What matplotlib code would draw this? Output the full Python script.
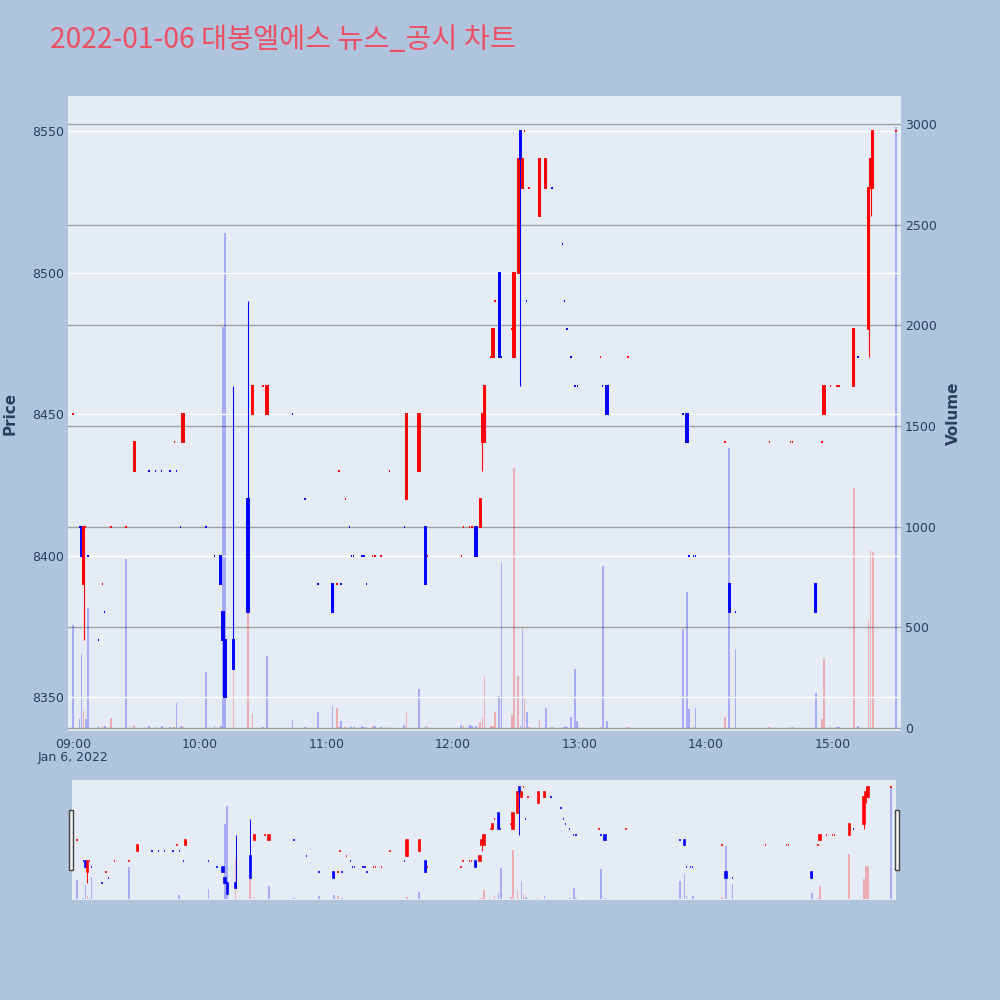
import matplotlib
matplotlib.use('Agg')
import matplotlib.pyplot as plt
import matplotlib.dates as mdates
from matplotlib.patches import Rectangle
import pandas as pd

plt.rcParams['font.family'] = ['DejaVu Sans', 'Noto Sans CJK KR']

day = '2022-01-06'

times = ['09:00', '09:03', '09:04', '09:05', '09:06', '09:07', '09:12', '09:14', '09:15', '09:18',
         '09:25', '09:29', '09:36', '09:39', '09:42', '09:46', '09:48', '09:49', '09:51', '09:52',
         '10:03', '10:07', '10:10', '10:11', '10:12', '10:16', '10:23', '10:25', '10:30', '10:32',
         '10:44', '10:50', '10:56', '11:03', '11:05', '11:06', '11:07', '11:09', '11:11', '11:12',
         '11:13', '11:17', '11:18', '11:19', '11:22', '11:23', '11:26', '11:30', '11:37', '11:38',
         '11:44', '11:47', '11:48', '12:04', '12:05', '12:08', '12:09', '12:11', '12:13', '12:14',
         '12:15', '12:18', '12:19', '12:20', '12:22', '12:23', '12:28', '12:29', '12:31', '12:32',
         '12:33', '12:34', '12:35', '12:36', '12:41', '12:44', '12:47', '12:52', '12:53', '12:54',
         '12:56', '12:58', '12:59', '13:10', '13:11', '13:13', '13:23', '13:49', '13:51', '13:52',
         '13:54', '13:55', '14:09', '14:11', '14:14', '14:30', '14:40', '14:41', '14:52', '14:55',
         '14:56', '14:59', '15:02', '15:03', '15:10', '15:12', '15:17', '15:18', '15:19', '15:30']

opens = [8450, 8410, 8410, 8390, 8410, 8400, 8370, 8390, 8380, 8410,
         8410, 8430, 8430, 8430, 8430, 8430, 8440, 8430, 8410, 8440,
         8410, 8400, 8400, 8380, 8370, 8370, 8420, 8450, 8460, 8450,
         8450, 8420, 8390, 8390, 8390, 8430, 8390, 8420, 8410, 8400,
         8400, 8400, 8400, 8390, 8400, 8400, 8400, 8430, 8410, 8420,
         8430, 8410, 8400, 8400, 8410, 8410, 8410, 8410, 8410, 8440,
         8440, 8470, 8470, 8490, 8500, 8470, 8480, 8470, 8500, 8550,
         8530, 8550, 8490, 8530, 8520, 8530, 8530, 8510, 8490, 8480,
         8470, 8460, 8460, 8470, 8460, 8460, 8470, 8450, 8450, 8400,
         8400, 8400, 8440, 8390, 8380, 8440, 8440, 8440, 8390, 8440,
         8450, 8460, 8460, 8460, 8460, 8470, 8480, 8530, 8530, 8550]

highs = [8450, 8410, 8410, 8410, 8410, 8400, 8370, 8390, 8380, 8410,
         8410, 8440, 8430, 8430, 8430, 8430, 8440, 8430, 8410, 8450,
         8410, 8400, 8400, 8380, 8370, 8460, 8490, 8460, 8460, 8460,
         8450, 8420, 8390, 8390, 8390, 8430, 8390, 8420, 8410, 8400,
         8400, 8400, 8400, 8390, 8400, 8400, 8400, 8430, 8410, 8450,
         8450, 8410, 8400, 8400, 8410, 8410, 8410, 8410, 8420, 8450,
         8460, 8470, 8480, 8490, 8500, 8470, 8480, 8500, 8540, 8550,
         8540, 8550, 8490, 8530, 8540, 8540, 8530, 8510, 8490, 8480,
         8470, 8460, 8460, 8470, 8460, 8460, 8470, 8450, 8450, 8400,
         8400, 8400, 8440, 8390, 8380, 8440, 8440, 8440, 8390, 8440,
         8460, 8460, 8460, 8460, 8480, 8470, 8530, 8540, 8550, 8550]

lows = [8450, 8410, 8400, 8370, 8410, 8400, 8370, 8390, 8380, 8410,
        8410, 8430, 8430, 8430, 8430, 8430, 8440, 8430, 8410, 8440,
        8410, 8400, 8390, 8370, 8350, 8360, 8380, 8450, 8460, 8450,
        8450, 8420, 8390, 8380, 8390, 8430, 8390, 8420, 8410, 8400,
        8400, 8400, 8400, 8390, 8400, 8400, 8400, 8430, 8410, 8420,
        8430, 8390, 8400, 8400, 8410, 8410, 8410, 8400, 8410, 8430,
        8440, 8470, 8470, 8490, 8470, 8470, 8480, 8470, 8500, 8460,
        8530, 8550, 8490, 8530, 8520, 8530, 8530, 8510, 8490, 8480,
        8470, 8460, 8460, 8470, 8460, 8450, 8470, 8450, 8440, 8400,
        8400, 8400, 8440, 8380, 8380, 8440, 8440, 8440, 8380, 8440,
        8450, 8460, 8460, 8460, 8460, 8470, 8470, 8520, 8530, 8550]

closes = [8450, 8410, 8400, 8410, 8410, 8400, 8370, 8390, 8380, 8410,
          8410, 8440, 8430, 8430, 8430, 8430, 8440, 8430, 8410, 8450,
          8410, 8400, 8390, 8370, 8350, 8360, 8380, 8460, 8460, 8460,
          8450, 8420, 8390, 8380, 8390, 8430, 8390, 8420, 8410, 8400,
          8400, 8400, 8400, 8390, 8400, 8400, 8400, 8430, 8410, 8450,
          8450, 8390, 8400, 8400, 8410, 8410, 8410, 8400, 8420, 8450,
          8460, 8470, 8480, 8490, 8470, 8470, 8480, 8500, 8540, 8540,
          8540, 8550, 8490, 8530, 8540, 8540, 8530, 8510, 8490, 8480,
          8470, 8460, 8460, 8470, 8460, 8450, 8470, 8450, 8440, 8400,
          8400, 8400, 8440, 8380, 8380, 8440, 8440, 8440, 8380, 8440,
          8460, 8460, 8460, 8460, 8480, 8470, 8530, 8540, 8550, 8550]

volumes = [510, 45, 367, 84, 45, 595, 10, 8, 12, 50,
           842, 14, 8, 6, 8, 6, 5, 125, 12, 5,
           278, 10, 8, 1994, 2460, 1075, 674, 67, 5, 358,
           42, 5, 81, 109, 101, 5, 36, 6, 5, 8,
           5, 8, 6, 5, 12, 10, 5, 5, 14, 77,
           194, 8, 8, 16, 8, 16, 10, 12, 30, 50,
           253, 10, 10, 81, 158, 820, 65, 1291, 259, 8,
           492, 152, 77, 5, 42, 101, 5, 5, 10, 5,
           57, 294, 36, 5, 803, 36, 5, 492, 678, 93,
           5, 101, 55, 1392, 393, 5, 5, 5, 174, 47,
           344, 5, 5, 5, 1190, 10, 532, 885, 872, 2985]

x = pd.to_datetime([day + ' ' + t for t in times])

# plotly style direction: dojis take the direction from the previous close
cand_up = []
pc, pu = None, True
for o, c in zip(opens, closes):
    if c > o:
        up = True
    elif c < o:
        up = False
    elif pc is None or c > pc:
        up = True
    elif c < pc:
        up = False
    else:
        up = pu
    cand_up.append(up)
    pc, pu = c, up

vol_up = [False] + [c > p for p, c in zip(closes[:-1], closes[1:])]

RED, BLUE = '#ff0000', '#0000ff'
BG = '#e5ecf6'
PAPER = '#b0c4de'
TXT = '#2a3f5f'
minute = 1 / 1440

x0 = pd.Timestamp(day + ' 09:00') - pd.Timedelta(minutes=2.4)
x1 = pd.Timestamp(day + ' 15:30') + pd.Timedelta(minutes=2.4)
price_lim = (8338, 8562.4)
vol_lim = (-15, 3140)


def draw(ax_v, ax_p, wick_lw, edge_lw):
    vcol = [RED if u else BLUE for u in vol_up]
    ax_v.bar(x, volumes, width=0.8 * minute, color=vcol, alpha=0.27, zorder=2)
    ccol = [RED if u else BLUE for u in cand_up]
    ax_p.vlines(x, lows, highs, colors=ccol, linewidth=wick_lw, zorder=3)
    bottoms = [min(o, c) for o, c in zip(opens, closes)]
    heights = [abs(c - o) for o, c in zip(opens, closes)]
    ax_p.bar(x, heights, bottom=bottoms, width=0.7 * minute, color=ccol,
             edgecolor=ccol, linewidth=edge_lw, zorder=4)


fig = plt.figure(figsize=(10, 10), dpi=100, facecolor=PAPER)

ax_vol = fig.add_axes([0.068, 0.269, 0.833, 0.635])
ax_vol.set_facecolor(BG)
ax_price = ax_vol.twinx()

draw(ax_vol, ax_price, 0.8, 1.4)

ax_vol.set_xlim(x0, x1)
ax_vol.set_ylim(*vol_lim)
ax_price.set_ylim(*price_lim)
ax_vol.set_yticks(range(0, 3001, 500))
ax_price.set_yticks(range(8350, 8551, 50))

ax_vol.yaxis.tick_right()
ax_price.yaxis.tick_left()
ax_vol.grid(axis='y', color='#a0a0a0', linewidth=1)
ax_vol.set_axisbelow(True)
ax_price.grid(axis='y', color='white', linewidth=1)
ax_price.set_axisbelow(True)

for a in (ax_vol, ax_price):
    for s in a.spines.values():
        s.set_visible(False)
    a.tick_params(length=0, labelsize=9, labelcolor=TXT, pad=3)

ax_vol.xaxis.set_major_locator(mdates.HourLocator())
ax_vol.xaxis.set_major_formatter(mdates.DateFormatter('%H:%M'))
ax_vol.tick_params(axis='x', pad=5)
ax_vol.annotate('Jan 6, 2022', xy=(mdates.date2num(pd.Timestamp(day + ' 09:00')), 0),
                xycoords=ax_vol.get_xaxis_transform(), xytext=(0, -27),
                textcoords='offset pixels', ha='center', va='center',
                fontsize=9, color=TXT)

fig.text(0.010, 0.5865, 'Price', rotation=90, ha='center', va='center',
         fontsize=11, fontweight='bold', color=TXT)
fig.text(0.953, 0.5865, 'Volume', rotation=90, ha='center', va='center',
         fontsize=11, fontweight='bold', color=TXT)

fig.text(0.05, 0.96, '2022-01-06 대봉엘에스 뉴스_공시 차트', ha='left', va='center',
         fontsize=20.4, color='#eb5064', family=['Noto Sans CJK KR', 'DejaVu Sans'])

# range slider
sl_v = fig.add_axes([0.072, 0.100, 0.824, 0.120])
sl_v.set_facecolor(BG)
sl_p = sl_v.twinx()
draw(sl_v, sl_p, 0.7, 1.2)
sl_v.set_xlim(x0, x1)
sl_v.set_ylim(*vol_lim)
sl_p.set_ylim(*price_lim)
for a in (sl_v, sl_p):
    a.set_xticks([])
    a.set_yticks([])
    for s in a.spines.values():
        s.set_visible(False)

for hx in (0.0685, 0.895):
    fig.patches.append(Rectangle((hx, 0.130), 0.004, 0.060, transform=fig.transFigure,
                                 facecolor='#f2f2f2', edgecolor='#444444', linewidth=1))

fig.savefig('out.png', dpi=100, facecolor=PAPER)
